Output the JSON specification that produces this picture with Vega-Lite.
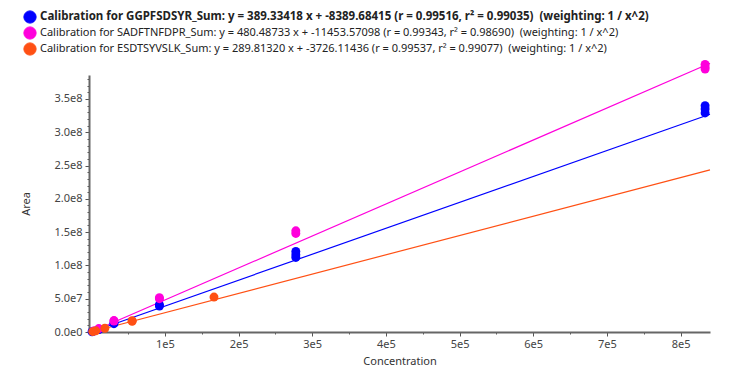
{
  "$schema": "https://vega.github.io/schema/vega-lite/v6.json",
  "width": 621,
  "height": 257,
  "autosize": "none",
  "padding": {"left": 89, "top": 75, "right": 40, "bottom": 52},
  "background": "white",
  "config": {
    "font": "Noto Sans",
    "view": {"stroke": null},
    "axis": {"grid": false, "labelColor": "#444", "titleColor": "#333", "titleFontWeight": "normal", "labelFont": "Noto Sans", "titleFont": "Noto Sans"}
  },
  "datasets": {
    "points": [
      {"series": "GGPF", "conc": 833333, "area": 329000000},
      {"series": "GGPF", "conc": 833333, "area": 335000000},
      {"series": "GGPF", "conc": 833333, "area": 340000000},
      {"series": "GGPF", "conc": 277778, "area": 112000000},
      {"series": "GGPF", "conc": 277778, "area": 116000000},
      {"series": "GGPF", "conc": 277778, "area": 121000000},
      {"series": "GGPF", "conc": 92593, "area": 39000000},
      {"series": "GGPF", "conc": 92593, "area": 41000000},
      {"series": "GGPF", "conc": 30864, "area": 12500000},
      {"series": "GGPF", "conc": 30864, "area": 13500000},
      {"series": "GGPF", "conc": 10288, "area": 4200000},
      {"series": "GGPF", "conc": 10288, "area": 3800000},
      {"series": "GGPF", "conc": 3429, "area": 1300000},
      {"series": "GGPF", "conc": 1143, "area": 420000},
      {"series": "SADF", "conc": 833333, "area": 395000000},
      {"series": "SADF", "conc": 833333, "area": 398000000},
      {"series": "SADF", "conc": 833333, "area": 402000000},
      {"series": "SADF", "conc": 277778, "area": 148000000},
      {"series": "SADF", "conc": 277778, "area": 152000000},
      {"series": "SADF", "conc": 92593, "area": 50000000},
      {"series": "SADF", "conc": 92593, "area": 51500000},
      {"series": "SADF", "conc": 30864, "area": 16500000},
      {"series": "SADF", "conc": 30864, "area": 17200000},
      {"series": "SADF", "conc": 10288, "area": 5200000},
      {"series": "SADF", "conc": 3429, "area": 1600000},
      {"series": "ESDT", "conc": 166667, "area": 52500000},
      {"series": "ESDT", "conc": 55556, "area": 17000000},
      {"series": "ESDT", "conc": 55556, "area": 16200000},
      {"series": "ESDT", "conc": 18519, "area": 5600000},
      {"series": "ESDT", "conc": 6173, "area": 1800000},
      {"series": "ESDT", "conc": 2058, "area": 600000}
    ],
    "lines": [
      {"series": "GGPF", "conc": 0, "area": -8390},
      {"series": "GGPF", "conc": 840000, "area": 327032320},
      {"series": "SADF", "conc": 0, "area": -11454},
      {"series": "SADF", "conc": 840000, "area": 403597900},
      {"series": "ESDT", "conc": 0, "area": -3726},
      {"series": "ESDT", "conc": 840000, "area": 243439360}
    ]
  },
  "layer": [
    {
      "data": {"name": "lines"},
      "mark": {"type": "line", "strokeWidth": 1.2, "clip": false},
      "encoding": {
        "x": {"field": "conc", "type": "quantitative", "scale": {"domain": [-3000, 840000], "nice": false, "zero": false},
          "axis": {"orient": "bottom", "values": [0, 50000, 150000, 250000, 350000, 450000, 550000, 650000, 750000], "labels": false, "domain": false, "tickSize": 2, "tickColor": "#555", "title": null}},
        "y": {"field": "area", "type": "quantitative", "scale": {"domain": [0, 386000000], "nice": false, "zero": false},
          "axis": {"orient": "left", "values": [10000000, 20000000, 30000000, 40000000, 60000000, 70000000, 80000000, 90000000, 110000000, 120000000, 130000000, 140000000, 160000000, 170000000, 180000000, 190000000, 210000000, 220000000, 230000000, 240000000, 260000000, 270000000, 280000000, 290000000, 310000000, 320000000, 330000000, 340000000, 360000000, 370000000, 380000000], "labels": false, "domain": false, "tickSize": 2, "tickColor": "#555", "title": null}},
        "color": {"field": "series", "type": "nominal"},
        "detail": {"field": "series"}
      }
    },
    {
      "data": {"name": "points"},
      "mark": {"type": "point", "filled": true, "opacity": 1, "size": 80, "shape": "circle", "clip": false},
      "encoding": {
        "x": {"field": "conc", "type": "quantitative",
          "axis": {"orient": "bottom", "values": [100000, 200000, 300000, 400000, 500000, 600000, 700000, 800000], "labelExpr": "datum.value / 100000 + 'e5'", "tickSize": 4, "labelPadding": 2, "tickColor": "#555", "domainColor": "#666", "domainWidth": 2, "labelFontSize": 11, "title": "Concentration", "titleFontSize": 11, "titlePadding": 6}},
        "y": {"field": "area", "type": "quantitative",
          "axis": {"orient": "left", "values": [0, 50000000, 100000000, 150000000, 200000000, 250000000, 300000000, 350000000], "labelExpr": "replace(format(datum.value, '.1e'), '+', '')", "tickSize": 4, "labelPadding": 3, "tickColor": "#555", "domainColor": "#666", "domainWidth": 2, "labelFontSize": 11, "title": "Area", "titleFontSize": 11, "titlePadding": 22}},
        "color": {"field": "series", "type": "nominal",
          "scale": {"domain": ["GGPF", "SADF", "ESDT"], "range": ["#0000ff", "#ff00dc", "#ff5014"]},
          "legend": {
            "orient": "none", "legendX": -66, "legendY": -65, "title": null,
            "symbolType": "circle", "symbolSize": 150, "symbolStrokeColor": "#333", "symbolStrokeWidth": 1, "symbolOpacity": 1,
            "labelFontSize": 11, "labelColor": "#222", "labelFont": "Noto Sans", "labelLimit": 0, "rowPadding": -2, "labelOffset": 3,
            "labelExpr": "datum.value == 'GGPF' ? 'Calibration for GGPFSDSYR_Sum: y = 389.33418 x + -8389.68415 (r = 0.99516, r² = 0.99035)\u00a0 (weighting: 1 / x^2)' : datum.value == 'SADF' ? 'Calibration for SADFTNFDPR_Sum: y = 480.48733 x + -11453.57098 (r = 0.99343, r² = 0.98690)\u00a0 (weighting: 1 / x^2)' : 'Calibration for ESDTSYVSLK_Sum: y = 289.81320 x + -3726.11436 (r = 0.99537, r² = 0.99077)\u00a0 (weighting: 1 / x^2)'",
            "encode": {
              "labels": {"update": {"fontWeight": {"signal": "datum.value == 'GGPF' ? 'bold' : 'normal'"}, "fontSize": {"signal": "datum.value == 'GGPF' ? 11.5 : 11"}}},
              "symbols": {"update": {"stroke": {"value": "#333"}, "strokeWidth": {"value": 1}}}
            }
          }}
      }
    }
  ],
  "resolve": {"axis": {"x": "independent", "y": "independent"}}
}
